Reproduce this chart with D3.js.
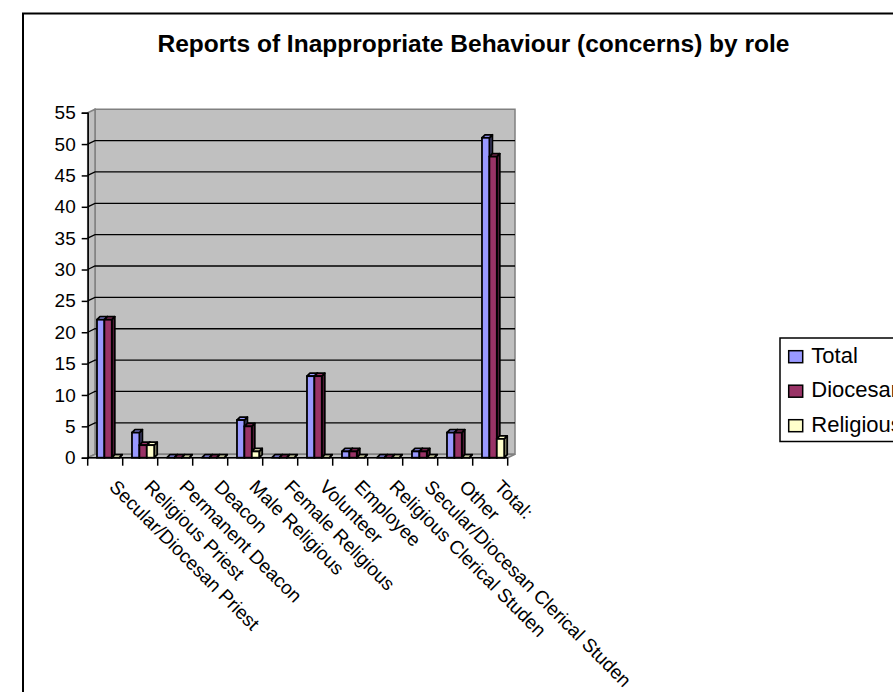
<!DOCTYPE html>
<html>
<head>
<meta charset="utf-8">
<script src="https://cdn.jsdelivr.net/npm/d3@7"></script>
<style>
  html, body { margin: 0; padding: 0; background: #fff; }
  svg { display: block; font-family: Arial, "Liberation Sans", sans-serif; }
</style>
</head>
<body>
<svg id="chart" width="893" height="692"></svg>
<script>
const categories = [
  "Secular/Diocesan Priest", "Religious Priest", "Permanent Deacon", "Deacon",
  "Male Religious", "Female Religious", "Volunteer", "Employee",
  "Religious Clerical Studen", "Secular/Diocesan Clerical Studen", "Other", "Total:"
];
const seriesNames = ["Total", "Diocesan", "Religious"];
const totalValues     = [22, 4, 0, 0, 6, 0, 13, 1, 0, 1, 4, 51];
const diocesanValues  = [22, 2, 0, 0, 5, 0, 13, 1, 0, 1, 4, 48];
const religiousValues = [0, 2, 0, 0, 1, 0, 0, 0, 0, 0, 0, 3];
const seriesColors = ["#9999FF", "#993366", "#FFFFCC"];
const yTickValues = [0, 5, 10, 15, 20, 25, 30, 35, 40, 45, 50, 55];
const chartTitle = "Reports of Inappropriate Behaviour (concerns) by role";

const seriesValues = [totalValues, diocesanValues, religiousValues];

const svg = d3.select("#chart");

// outer frame
svg.append("rect")
  .attr("x", 23).attr("y", 13.5).attr("width", 900).attr("height", 700)
  .attr("fill", "#fff").attr("stroke", "#000").attr("stroke-width", 2);

// title
svg.append("text")
  .attr("x", 473.5).attr("y", 52)
  .attr("text-anchor", "middle")
  .attr("font-weight", "bold")
  .attr("font-size", 23)
  .attr("textLength", 632)
  .attr("lengthAdjust", "spacingAndGlyphs")
  .text(chartTitle);

// scales
const x = d3.scaleBand().domain(categories).range([87.7, 507.7]).padding(0);
const y = d3.scaleLinear().domain([0, 55]).range([457.7, 112.7]);
const inner = d3.scaleBand().domain(seriesNames).range([x.bandwidth() * 0.265, x.bandwidth() * 0.9]).padding(0);

const DX = 7.3, DY = 3.5; // wall depth
const x0 = x.range()[0], x1 = x.range()[1];
const yTop = y(55), yBot = y(0);

const g = svg.append("g");
const pts = arr => arr.map(p => p.join(",")).join(" ");

// back wall
g.append("polygon")
  .attr("points", pts([[x0 + DX, yTop - DY], [x1 + DX, yTop - DY], [x1 + DX, yBot - DY], [x0 + DX, yBot - DY]]))
  .attr("fill", "#C0C0C0").attr("stroke", "#808080").attr("stroke-width", 1.5);
// side wall
g.append("polygon")
  .attr("points", pts([[x0, yTop], [x0 + DX, yTop - DY], [x0 + DX, yBot - DY], [x0, yBot]]))
  .attr("fill", "#C0C0C0").attr("stroke", "#808080").attr("stroke-width", 1.5);
// floor
g.append("polygon")
  .attr("points", pts([[x0, yBot], [x0 + DX, yBot - DY], [x1 + DX, yBot - DY], [x1, yBot]]))
  .attr("fill", "#C0C0C0").attr("stroke", "#808080").attr("stroke-width", 1.5);

// gridlines
const gridVals = yTickValues.filter(v => v > 0 && v < 55);
g.selectAll("polyline.grid").data(gridVals).enter().append("polyline")
  .attr("class", "grid")
  .attr("points", d => pts([[x0, y(d)], [x0 + DX, y(d) - DY], [x1 + DX, y(d) - DY]]))
  .attr("fill", "none").attr("stroke", "#000").attr("stroke-width", 1.3);

// bars (3D)
const BD = 3, BH = 3;
const barData = [];
categories.forEach((c, i) => {
  seriesNames.forEach((s, j) => {
    barData.push({ cat: c, series: s, value: seriesValues[j][i], color: seriesColors[j] });
  });
});
const bars = g.selectAll("g.bar").data(barData).enter().append("g").attr("class", "bar");
bars.each(function(d) {
  const gb = d3.select(this);
  const bx0 = x(d.cat) + inner(d.series);
  const bx1 = bx0 + inner.bandwidth();
  const by = y(d.value), bb = y(0);
  const side = d3.color(d.color).darker(1.6).formatHex();
  gb.append("polygon")
    .attr("points", pts([[bx1, by], [bx1 + BD, by - BH], [bx1 + BD, bb - BH], [bx1, bb]]))
    .attr("fill", side).attr("stroke", "#000").attr("stroke-width", 1.8).attr("stroke-linejoin", "round");
  gb.append("polygon")
    .attr("points", pts([[bx0, by], [bx0 + BD, by - BH], [bx1 + BD, by - BH], [bx1, by]]))
    .attr("fill", d.color).attr("stroke", "#000").attr("stroke-width", 1.8).attr("stroke-linejoin", "round");
  gb.append("rect")
    .attr("x", bx0).attr("y", by).attr("width", bx1 - bx0).attr("height", bb - by)
    .attr("fill", d.color).attr("stroke", "#000").attr("stroke-width", 1.8);
});

// y axis
const yAxis = d3.axisLeft(y).tickValues(yTickValues).tickSize(6).tickPadding(6);
const yg = svg.append("g").attr("transform", `translate(${x0},0)`).call(yAxis);
yg.select(".domain").attr("stroke", "#000").attr("stroke-width", 1.5);
yg.selectAll(".tick line").attr("stroke", "#000").attr("stroke-width", 1.5);
yg.selectAll(".tick text").attr("font-size", 19).attr("font-family", "Arial, 'Liberation Sans', sans-serif").attr("fill", "#000");

// x axis line + ticks at category boundaries
const boundaries = categories.map(c => x(c)).concat([x1]);
svg.append("line").attr("x1", x0).attr("x2", x1).attr("y1", yBot).attr("y2", yBot)
  .attr("stroke", "#000").attr("stroke-width", 1.5);
svg.selectAll("line.xt").data(boundaries).enter().append("line").attr("class", "xt")
  .attr("x1", d => d).attr("x2", d => d).attr("y1", yBot).attr("y2", yBot + 8)
  .attr("stroke", "#000").attr("stroke-width", 1.5);

// x labels rotated
svg.selectAll("text.xl").data(categories).enter().append("text").attr("class", "xl")
  .attr("transform", d => `translate(${x(d) + x.bandwidth() / 2 + 3},488) rotate(45)`)
  .attr("font-size", 19)
  .attr("text-anchor", "start")
  .text(d => d);

// legend
const lg = svg.append("g").attr("transform", "translate(780,338)");
lg.append("rect").attr("x", 0).attr("y", 0).attr("width", 200).attr("height", 103.5)
  .attr("fill", "#fff").attr("stroke", "#000").attr("stroke-width", 1.5);
const li = lg.selectAll("g.li").data(seriesNames).enter().append("g").attr("class", "li")
  .attr("transform", (d, i) => `translate(8.7,${24.7 + i * 34.5})`);
li.append("rect").attr("x", 0).attr("y", -12).attr("width", 14).attr("height", 12)
  .attr("fill", (d, i) => seriesColors[i]).attr("stroke", "#000").attr("stroke-width", 1.5);
li.append("text").attr("x", 22.6).attr("y", 0)
  .attr("font-size", 22).text(d => d);
</script>
</body>
</html>
